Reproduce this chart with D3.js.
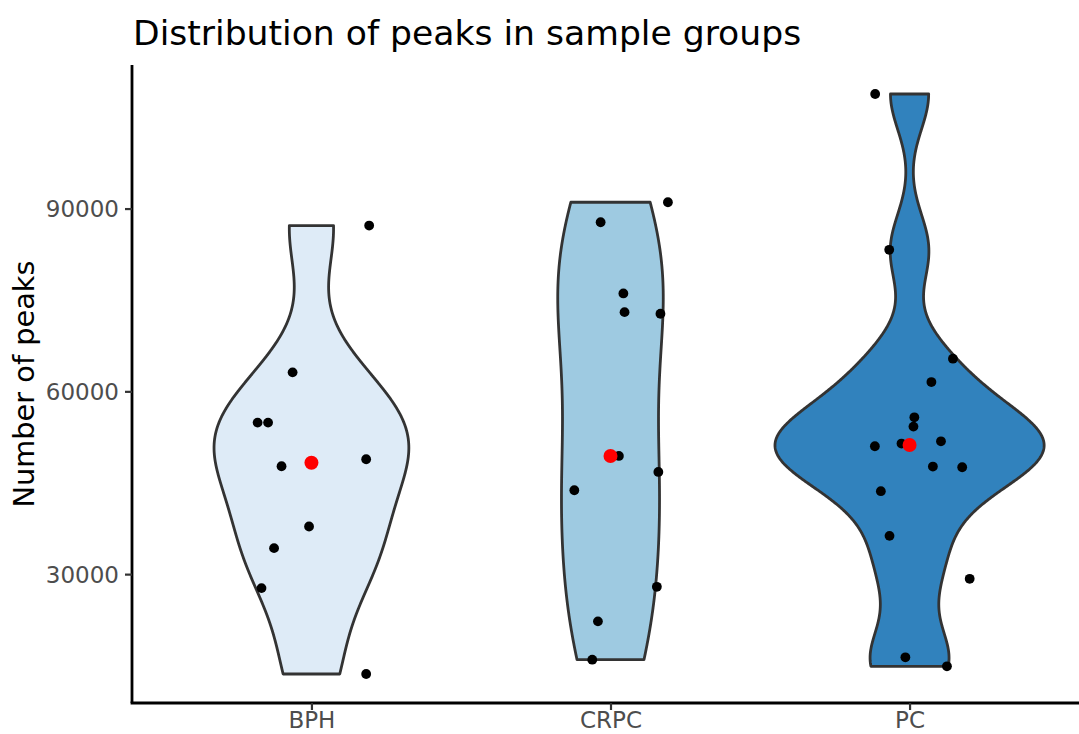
<!DOCTYPE html>
<html>
<head>
<meta charset="utf-8">
<script src="https://cdn.jsdelivr.net/npm/d3@7"></script>
<style>
  html, body { margin: 0; padding: 0; background: #ffffff; }
  svg { display: block; font-family: "DejaVu Sans", sans-serif; }
</style>
</head>
<body>
<svg id="chart" width="1079" height="734"></svg>
<script>
// Sample groups and their peak counts
const groups = ["BPH", "CRPC", "PC"];
const groupFills = ["#deebf7", "#9ecae1", "#3182bd"];

const bphPeaks  = [87213, 63115, 54869, 54869, 47705, 48852, 37820, 34262, 27705, 13607];
const crpcPeaks = [91033, 87754, 76066, 73000, 72738, 49393, 46770, 43770, 27918, 22246, 15951];
const pcPeaks   = [108803, 83230, 65361, 61525, 55738, 54213, 50984, 51426, 51803, 47656, 47541,
                   43607, 36279, 29230, 16344, 14869];

// horizontal jitter of each point, in category units
const bphJitter  = [0.193, -0.063, -0.180, -0.145, -0.100, 0.183, -0.008, -0.125, -0.167, 0.183];
const crpcJitter = [0.192, -0.033, 0.043, 0.047, 0.167, 0.028, 0.160, -0.121, 0.155, -0.042, -0.061];
const pcJitter   = [-0.115, -0.068, 0.145, 0.073, 0.016, 0.013, -0.116, -0.027, 0.105, 0.078, 0.176,
                    -0.096, -0.067, 0.201, -0.014, 0.125];

const yTicks = [30000, 60000, 90000];

const peaksByGroup = [bphPeaks, crpcPeaks, pcPeaks];
const jitterByGroup = [bphJitter, crpcJitter, pcJitter];

// layout
const W = 1079, H = 734;
const panel = { left: 132, right: 1089, top: 65, bottom: 703 };

const svg = d3.select("#chart");
svg.append("rect").attr("width", W).attr("height", H).attr("fill", "#ffffff");

// scales
const x = d3.scalePoint().domain(groups).range([panel.left, panel.right]).padding(0.6);
const step = x.step();
const all = peaksByGroup.flat();
const [vmin, vmax] = d3.extent(all);
const pad = (vmax - vmin) * 0.05;
const y = d3.scaleLinear().domain([vmin - pad, vmax + pad]).range([panel.bottom, panel.top]);

// Gaussian kernel density, bandwidth by Silverman's rule (nrd0)
function bwNrd0(v) {
  const s = v.slice().sort(d3.ascending);
  const sd = d3.deviation(s);
  const iqr = d3.quantile(s, 0.75) - d3.quantile(s, 0.25);
  let lo = Math.min(sd, iqr / 1.34);
  if (!lo) lo = sd || Math.abs(s[0]) || 1;
  return 0.9 * lo * Math.pow(s.length, -0.2);
}
function kde(v, n) {
  const h = bwNrd0(v);
  const [lo, hi] = d3.extent(v);
  const k = u => Math.exp(-0.5 * u * u) / Math.sqrt(2 * Math.PI);
  return d3.range(n).map(i => {
    const t = lo + (hi - lo) * i / (n - 1);
    const d = d3.sum(v, xi => k((t - xi) / h)) / (v.length * h);
    return { v: t, d };
  });
}
const densities = peaksByGroup.map(v => kde(v, 512));
const maxDensity = d3.max(densities, ds => d3.max(ds, p => p.d));
const halfWidth = d3.scaleLinear().domain([0, maxDensity]).range([0, 0.45 * step]);

// violins
const gV = svg.append("g");
groups.forEach((g, i) => {
  const cx = x(g);
  const area = d3.area()
    .y(p => y(p.v))
    .x0(p => cx - halfWidth(p.d))
    .x1(p => cx + halfWidth(p.d));
  gV.append("path")
    .datum(densities[i])
    .attr("d", area)
    .attr("fill", groupFills[i])
    .attr("stroke", "#333333")
    .attr("stroke-width", 2.8)
    .attr("stroke-linejoin", "round");
});

// jittered points
const gP = svg.append("g");
groups.forEach((g, i) => {
  peaksByGroup[i].forEach((v, j) => {
    gP.append("circle")
      .attr("cx", x(g) + jitterByGroup[i][j] * step)
      .attr("cy", y(v))
      .attr("r", 4.9)
      .attr("fill", "#000000");
  });
});

// medians
const gM = svg.append("g");
groups.forEach((g, i) => {
  gM.append("circle")
    .attr("cx", x(g))
    .attr("cy", y(d3.median(peaksByGroup[i])))
    .attr("r", 7)
    .attr("fill", "#ff0000");
});

// axes
const yAxis = d3.axisLeft(y).tickValues(yTicks).tickSize(7).tickPadding(6).tickFormat(d3.format("d"));
const gy = svg.append("g").attr("transform", `translate(${panel.left},0)`).call(yAxis);
gy.select(".domain").attr("d", `M0,${panel.top}V${panel.bottom}`);

const xAxis = d3.axisBottom(x).tickSize(7).tickPadding(4);
const gx = svg.append("g").attr("transform", `translate(0,${panel.bottom})`).call(xAxis);
gx.select(".domain").attr("d", `M${panel.left - 1.4},0H${panel.right}`);

[gx, gy].forEach(ax => {
  ax.select(".domain").attr("stroke", "#000000").attr("stroke-width", 2.8);
  ax.selectAll(".tick line").attr("stroke", "#333333").attr("stroke-width", 2.2);
  ax.selectAll(".tick text")
    .attr("fill", "#4d4d4d")
    .style("font-size", "23px")
    .style("font-family", "DejaVu Sans, sans-serif");
});
gy.selectAll(".tick text").attr("dy", "0.36em");
gx.selectAll(".tick text").attr("dy", "0.62em");

// titles
svg.append("text")
  .attr("x", 133).attr("y", 45)
  .style("font-size", "34.6px")
  .attr("fill", "#000000")
  .text("Distribution of peaks in sample groups");

svg.append("text")
  .attr("transform", `translate(33.5,${(panel.top + panel.bottom) / 2}) rotate(-90)`)
  .attr("text-anchor", "middle")
  .style("font-size", "28.8px")
  .attr("fill", "#000000")
  .text("Number of peaks");
</script>
</body>
</html>
